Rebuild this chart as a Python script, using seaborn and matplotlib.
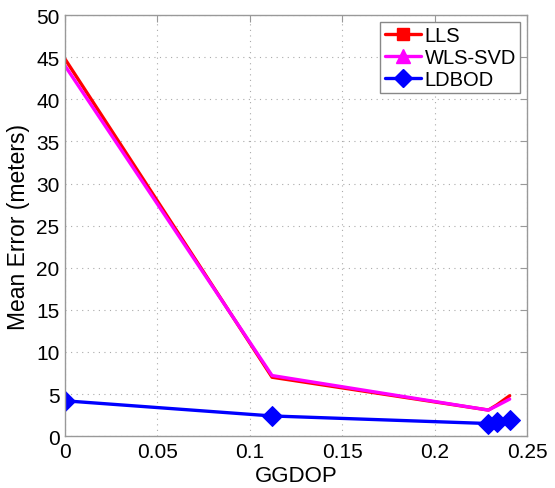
import pandas as pd
import seaborn as sns
import matplotlib.pyplot as plt
from matplotlib.lines import Line2D

ggdop = [0.0, 0.112, 0.229, 0.2335, 0.2405]
lls = [44.8, 7.0, 3.1, 3.7, 4.8]
wls_svd = [44.0, 7.2, 3.1, 3.6, 4.4]
ldbod = [4.2, 2.4, 1.5, 1.7, 1.9]

sns.set_style("white")
plt.rcParams['font.family'] = ['Liberation Sans', 'DejaVu Sans']
plt.rcParams['text.color'] = 'black'
plt.rcParams['axes.labelcolor'] = 'black'

fig = plt.figure(figsize=(5.55, 4.89), dpi=100)
ax = fig.add_axes([0.117, 0.106, 0.833, 0.861])

sns.lineplot(x=ggdop, y=lls, color='red', linewidth=2.4, sort=False, ax=ax)
sns.lineplot(x=ggdop, y=wls_svd, color='magenta', linewidth=2.4, sort=False, ax=ax)
sns.lineplot(x=ggdop, y=ldbod, color='blue', linewidth=2.4, sort=False, ax=ax,
             marker='D', markersize=10, markeredgecolor='blue')

ax.set_xlim(0, 0.25)
ax.set_ylim(0, 50)
ax.set_xticks([0, 0.05, 0.1, 0.15, 0.2, 0.25])
ax.set_xticklabels(['0', '0.05', '0.1', '0.15', '0.2', '0.25'])
ax.set_yticks(range(0, 51, 5))
ax.grid(True, linestyle=(0, (1, 4)), color='#aaaaaa', linewidth=0.8)
for s in ax.spines.values():
    s.set_color('#999999')
    s.set_linewidth(1.0)
ax.tick_params(direction='in', top=True, right=True, length=5, color='#999999',
               labelsize=15, labelcolor='black', pad=4)
ax.set_xlabel('GGDOP', fontsize=16, labelpad=3, color='black')
ax.set_ylabel('Mean Error (meters)', fontsize=16.5, labelpad=4, color='black')

handles = [
    Line2D([], [], color='red', linewidth=2.4, marker='s', markersize=8),
    Line2D([], [], color='magenta', linewidth=2.4, marker='^', markersize=10),
    Line2D([], [], color='blue', linewidth=2.4, marker='D', markersize=9),
]
leg = ax.legend(handles, ['LLS', 'WLS-SVD', 'LDBOD'], loc='upper right',
                fontsize=14.5, fancybox=False, framealpha=1, edgecolor='#888888',
                borderaxespad=0.35, handlelength=1.8, handletextpad=0.2,
                labelspacing=0.15, borderpad=0.2)
leg.get_frame().set_linewidth(1.0)
for t in leg.get_texts():
    t.set_color('black')

fig.savefig('out.png', dpi=100)
